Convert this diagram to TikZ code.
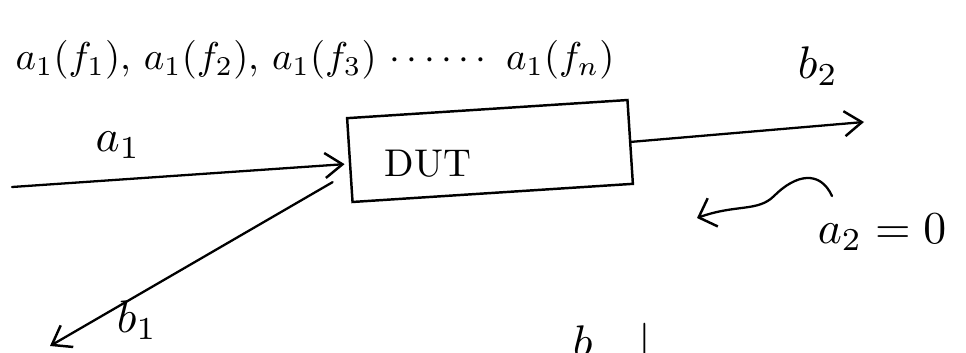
\documentclass[tikz,border=0pt]{standalone}
\usepackage{amsmath}
\usepackage{tikz}
\usetikzlibrary{positioning, arrows.meta, calc}
\tikzset{
  dutbox/.style={rectangle, draw=black, line width=1.4pt, rotate=3.7,
                 minimum width=5.62cm, minimum height=1.68cm, inner sep=0pt},
  lbl/.style={scale=2.6, inner sep=0pt},
  dutlbl/.style={scale=2.2, inner sep=0pt},
  arr/.style={-{Straight Barb[length=0.35cm, width=0.5cm, line width=1.4pt]},
              line width=1.3pt, line cap=round},
  wavearr/.style={-{Straight Barb[length=0.3cm, width=0.6cm, line width=1.4pt]},
                  line width=1.3pt, line cap=round},
}

\begin{document}
\begin{tikzpicture}[x=0.02cm, y=-0.02cm]
  \useasboundingbox[fill=white] (0,0) rectangle (966,352);

  % device and its label
  \node[dutbox] (dut) at (490,151) {};
  \node[dutlbl] (dutname) at (428,164) {DUT};

  % incident and reflected waves
  \coordinate (a1start) at (12,187);
  \coordinate (b1end) at (50,346);
  \coordinate (b2end) at (864,122);
  \draw[arr] (a1start) -- ($(dut.west)+(-4,4)$);
  \draw[arr] ($(dut.west)+(-16,22)$) -- (b1end);
  \draw[arr] (dut.east) -- (b2end);

  % nothing comes back from port 2
  \coordinate (wvstart) at (832,196);
  \coordinate (wvend) at (697,218);
  \draw[wavearr] (wvstart) .. controls (820,170) and (796,174) .. (774,196)
    .. controls (758,212) and (736,204) .. (wvend);

  % labels
  \node[lbl, scale=0.85] (sweep) at (315,60)
    {$a_1(f_1)$, $a_1(f_2)$, $a_1(f_3)$ $\cdots\cdots$ $a_1(f_n)$};
  \node[lbl] (a1lbl) at (118,145) {$a_1$};
  \node[lbl] (b1lbl) at (137,320) {$b_1$};
  \node[lbl] (b2lbl) at (818,66) {$b_2$};
  \node[lbl] (a2lbl) at (882,232) {$a_2 = 0$};
  \node[lbl, anchor=base west] (cutlbl) at (572,357) {$b\quad|$};
\end{tikzpicture}
\end{document}
